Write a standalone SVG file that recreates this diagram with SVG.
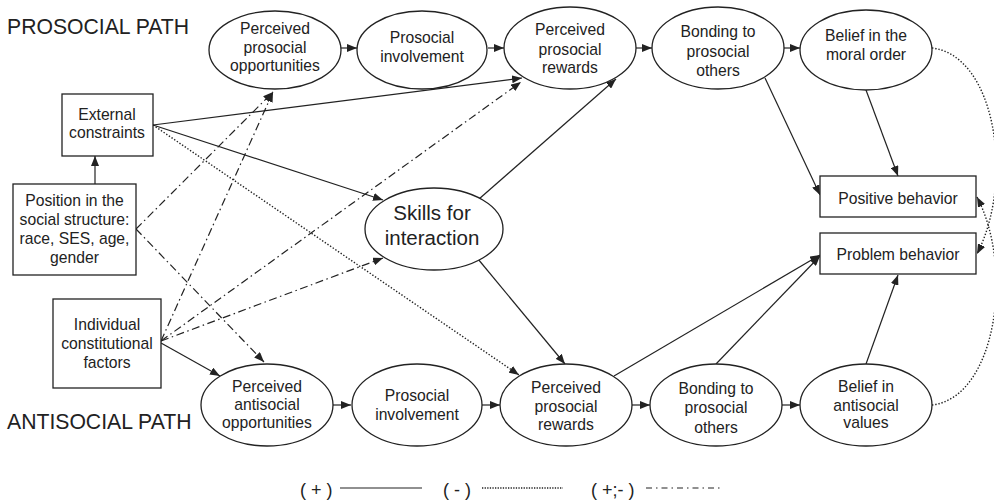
<svg xmlns="http://www.w3.org/2000/svg" width="994" height="500" viewBox="0 0 994 500">
<style>
  .node { fill: #fff; stroke: #222; stroke-width: 1.3; }
  text { font-family: "Liberation Sans", Arial, sans-serif; fill: #222; }
  .t { font-size: 15.7px; text-anchor: middle; }
  .big { font-size: 20.5px; text-anchor: middle; }
  .lbl { font-size: 21.2px; }
  .leg { font-size: 18px; }
  .c { fill: none; stroke: #222; stroke-width: 1.2; }
  .solid { marker-end: url(#ah); }
  .dot { stroke-width: 1.4; stroke-dasharray: 1.4 1.8; marker-end: url(#ah); }
  .dd { stroke-dasharray: 8 3.5 1.5 3.5; marker-end: url(#ah); }
</style>
<defs>
  <marker id="ah" markerUnits="userSpaceOnUse" markerWidth="10" markerHeight="8" refX="10" refY="4" orient="auto">
    <path d="M0,0 L10,4 L0,8 z" fill="#222" stroke="none"/>
  </marker>
</defs>

<text class="lbl" x="7" y="34">PROSOCIAL PATH</text>
<text class="lbl" x="7" y="429">ANTISOCIAL PATH</text>

<g id="connectors">
  <!-- top row chain -->
  <line class="c solid" x1="341" y1="48" x2="357" y2="48"/>
  <line class="c solid" x1="488" y1="48" x2="504" y2="48"/>
  <line class="c solid" x1="636" y1="48" x2="652" y2="48"/>
  <line class="c solid" x1="784" y1="48" x2="800" y2="48"/>
  <!-- bottom row chain -->
  <line class="c solid" x1="333" y1="405" x2="351" y2="405"/>
  <line class="c solid" x1="482" y1="405" x2="500" y2="405"/>
  <line class="c solid" x1="632" y1="405" x2="650" y2="405"/>
  <line class="c solid" x1="782" y1="405" x2="800" y2="405"/>
  <!-- position -> external -->
  <line class="c solid" x1="95" y1="184" x2="95" y2="156"/>
  <!-- external constraints -->
  <line class="c solid" x1="153" y1="125" x2="522" y2="78"/>
  <line class="c solid" x1="153" y1="125" x2="383" y2="200"/>
  <line class="c dot" x1="153" y1="125" x2="519" y2="375"/>
  <!-- skills -->
  <line class="c solid" x1="479" y1="199" x2="616" y2="79"/>
  <line class="c solid" x1="478" y1="259" x2="565" y2="364"/>
  <!-- individual -> antisocial opp -->
  <line class="c solid" x1="161" y1="343" x2="220" y2="376"/>
  <!-- to positive behavior -->
  <line class="c solid" x1="765" y1="78" x2="820" y2="195"/>
  <line class="c solid" x1="866" y1="90" x2="898" y2="176"/>
  <!-- to problem behavior -->
  <line class="c solid" x1="614" y1="376" x2="820" y2="255"/>
  <line class="c solid" x1="716" y1="364" x2="820" y2="256"/>
  <line class="c solid" x1="866" y1="364" x2="898" y2="275"/>
  <!-- dash-dot from position -->
  <line class="c dd" x1="136" y1="229" x2="273" y2="92"/>
  <line class="c dd" x1="136" y1="229" x2="264" y2="362"/>
  <!-- dash-dot from individual -->
  <line class="c dd" x1="161" y1="341" x2="273" y2="92"/>
  <line class="c dd" x1="161" y1="341" x2="521" y2="82"/>
  <line class="c dd" x1="161" y1="341" x2="383" y2="258"/>
  <!-- curved dotted -->
  <path class="c dot" d="M932,48 C995,55 1015,180 977,254"/>
  <path class="c dot" d="M932,405 C995,398 1015,270 977,197"/>
</g>

<g id="perc-prosocial-opp">
  <ellipse class="node" cx="275" cy="50" rx="66" ry="39"/>
  <text class="t" x="275" y="34">Perceived</text>
  <text class="t" x="275" y="53">prosocial</text>
  <text class="t" x="275" y="71">opportunities</text>
</g>
<g id="prosocial-involvement-top">
  <ellipse class="node" cx="422" cy="50" rx="65" ry="39"/>
  <text class="t" x="422" y="43">Prosocial</text>
  <text class="t" x="422" y="62">involvement</text>
</g>
<g id="perc-prosocial-rewards-top">
  <ellipse class="node" cx="570" cy="48" rx="66" ry="41"/>
  <text class="t" x="570" y="35">Perceived</text>
  <text class="t" x="570" y="55">prosocial</text>
  <text class="t" x="570" y="73">rewards</text>
</g>
<g id="bonding-top">
  <ellipse class="node" cx="718" cy="48" rx="66" ry="41"/>
  <text class="t" x="718" y="37">Bonding to</text>
  <text class="t" x="718" y="57">prosocial</text>
  <text class="t" x="718" y="76">others</text>
</g>
<g id="belief-moral">
  <ellipse class="node" cx="866" cy="50" rx="66" ry="40"/>
  <text class="t" x="866" y="41">Belief in the</text>
  <text class="t" x="866" y="60">moral order</text>
</g>

<g id="perc-antisocial-opp">
  <ellipse class="node" cx="267" cy="405" rx="66" ry="41"/>
  <text class="t" x="267" y="392">Perceived</text>
  <text class="t" x="267" y="410">antisocial</text>
  <text class="t" x="267" y="428">opportunities</text>
</g>
<g id="prosocial-involvement-bottom">
  <ellipse class="node" cx="417" cy="405" rx="65" ry="41"/>
  <text class="t" x="417" y="401">Prosocial</text>
  <text class="t" x="417" y="420">involvement</text>
</g>
<g id="perc-prosocial-rewards-bottom">
  <ellipse class="node" cx="566" cy="405" rx="66" ry="41"/>
  <text class="t" x="566" y="393">Perceived</text>
  <text class="t" x="566" y="412">prosocial</text>
  <text class="t" x="566" y="430">rewards</text>
</g>
<g id="bonding-bottom">
  <ellipse class="node" cx="716" cy="405" rx="66" ry="41"/>
  <text class="t" x="716" y="394">Bonding to</text>
  <text class="t" x="716" y="413">prosocial</text>
  <text class="t" x="716" y="433">others</text>
</g>
<g id="belief-antisocial">
  <ellipse class="node" cx="866" cy="405" rx="66" ry="41"/>
  <text class="t" x="866" y="392">Belief in</text>
  <text class="t" x="866" y="411">antisocial</text>
  <text class="t" x="866" y="428">values</text>
</g>

<g id="skills">
  <ellipse class="node" cx="434" cy="229" rx="69" ry="41"/>
  <text class="big" x="432" y="220">Skills for</text>
  <text class="big" x="432" y="245">interaction</text>
</g>

<g id="external-constraints">
  <rect class="node" x="62" y="94" width="91" height="62"/>
  <text class="t" x="107" y="120">External</text>
  <text class="t" x="107" y="138">constraints</text>
</g>
<g id="position">
  <rect class="node" x="13" y="184" width="123" height="91"/>
  <text class="t" x="74.5" y="206">Position in the</text>
  <text class="t" x="74.5" y="225">social structure:</text>
  <text class="t" x="74.5" y="244">race, SES, age,</text>
  <text class="t" x="74.5" y="263">gender</text>
</g>
<g id="individual">
  <rect class="node" x="53" y="299" width="108" height="89"/>
  <text class="t" x="107" y="330">Individual</text>
  <text class="t" x="107" y="349">constitutional</text>
  <text class="t" x="107" y="368">factors</text>
</g>
<g id="positive-behavior">
  <rect class="node" x="820" y="176" width="156" height="41"/>
  <text class="t" x="898" y="204">Positive behavior</text>
</g>
<g id="problem-behavior">
  <rect class="node" x="820" y="233" width="156" height="41"/>
  <text class="t" x="898" y="260">Problem behavior</text>
</g>

<g id="legend">
  <text class="leg" x="300" y="496">( + )</text>
  <line x1="340" y1="488" x2="422" y2="488" stroke="#222" stroke-width="1.2"/>
  <text class="leg" x="443" y="496">( - )</text>
  <line x1="482" y1="488" x2="563" y2="488" stroke="#222" stroke-width="1.3" stroke-dasharray="1.3 1.3"/>
  <text class="leg" x="591" y="496">( +;- )</text>
  <line x1="646" y1="488" x2="722" y2="488" stroke="#222" stroke-width="1.2" stroke-dasharray="6 4 1.5 4"/>
</g>
</svg>
